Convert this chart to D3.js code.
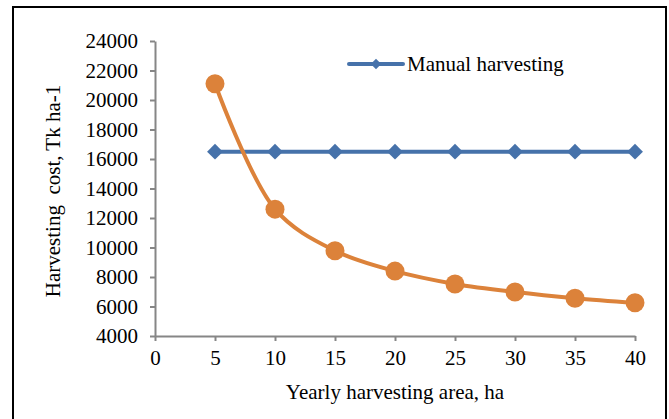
<!DOCTYPE html>
<html><head><meta charset="utf-8">
<script src="https://cdn.jsdelivr.net/npm/d3@7"></script>
<style>body{margin:0;background:#fff}svg{display:block}</style>
</head><body>
<script>
const areas = [5, 10, 15, 20, 25, 30, 35, 40];
const manualCost = [16500, 16500, 16500, 16500, 16500, 16500, 16500, 16500];
const machineCost = [21100, 12600, 9780, 8400, 7530, 6980, 6560, 6250];
const xTicks = [0, 5, 10, 15, 20, 25, 30, 35, 40];
const yTicks = [4000, 6000, 8000, 10000, 12000, 14000, 16000, 18000, 20000, 22000, 24000];
const legendLabel = "Manual harvesting";
const xTitle = "Yearly harvesting area, ha";
const yTitle = "Harvesting  cost, Tk ha-1";

const W = 669, H = 419;
const svg = d3.select("body").append("svg").attr("width", W).attr("height", H);
const font = "'Liberation Serif', 'Times New Roman', serif";

svg.append("rect").attr("x", 13).attr("y", 7).attr("width", 653).attr("height", 420)
  .attr("fill", "#fff").attr("stroke", "#000").attr("stroke-width", 2);

const x = d3.scaleLinear().domain([0, 40]).range([155, 635]);
const y = d3.scaleLinear().domain([4000, 24000]).range([336, 41]);
const axisColor = "#868686";

const gx = svg.append("g").attr("transform", `translate(0,${y(4000)})`)
  .call(d3.axisBottom(x).tickValues(xTicks).tickSize(5).tickPadding(7).tickSizeOuter(0));
const gy = svg.append("g").attr("transform", `translate(${x(0)},0)`)
  .call(d3.axisLeft(y).tickValues(yTicks).tickSize(5).tickPadding(12).tickFormat(d3.format("d")).tickSizeOuter(0));
[gx, gy].forEach(g => {
  g.select(".domain").attr("stroke", axisColor).attr("stroke-width", 2);
  g.selectAll(".tick line").attr("stroke", axisColor).attr("stroke-width", 2);
  g.selectAll(".tick text").attr("fill", "#000").attr("font-family", font).attr("font-size", 21);
});
gx.selectAll(".tick text").attr("dy", "0.8em");

// Manual series
const blue = "#4672AA";
svg.append("path").datum(areas.map((a, i) => [a, manualCost[i]]))
  .attr("fill", "none").attr("stroke", blue).attr("stroke-width", 4)
  .attr("d", d3.line().x(d => x(d[0])).y(d => y(d[1])));
const diamond = d3.symbol().type(d3.symbolDiamond2).size(160);
svg.selectAll(".dm").data(areas.map((a, i) => [a, manualCost[i]])).join("path")
  .attr("transform", d => `translate(${x(d[0])},${y(d[1])})`)
  .attr("d", diamond).attr("fill", blue);

// Machine series
const orange = "#DC823A";
svg.append("path").datum(areas.map((a, i) => [a, machineCost[i]]))
  .attr("fill", "none").attr("stroke", orange).attr("stroke-width", 4)
  .attr("d", d3.line().curve(d3.curveCatmullRom.alpha(0.5)).x(d => x(d[0])).y(d => y(d[1])));
svg.selectAll(".cm").data(areas.map((a, i) => [a, machineCost[i]])).join("circle")
  .attr("cx", d => x(d[0])).attr("cy", d => y(d[1])).attr("r", 9.5).attr("fill", orange);

// Legend
const ly = 64;
svg.append("line").attr("x1", 349).attr("x2", 403).attr("y1", ly).attr("y2", ly)
  .attr("stroke", blue).attr("stroke-width", 4).attr("stroke-linecap", "round");
svg.append("path").attr("transform", `translate(376,${ly})`)
  .attr("d", d3.symbol().type(d3.symbolDiamond2).size(70)).attr("fill", blue);
svg.append("text").attr("x", 407).attr("y", ly).attr("dy", "0.32em")
  .attr("font-family", font).attr("font-size", 21).text(legendLabel);

// Titles
svg.append("text").attr("x", (x(0) + x(40)) / 2).attr("y", 399).attr("text-anchor", "middle")
  .attr("font-family", font).attr("font-size", 21).text(xTitle);
svg.append("text").attr("transform", "translate(53,191) rotate(-90)").attr("dy", "0.35em")
  .attr("text-anchor", "middle").attr("font-family", font).attr("font-size", 21)
  .attr("xml:space", "preserve").style("white-space", "pre").text(yTitle);
</script>
</body></html>
